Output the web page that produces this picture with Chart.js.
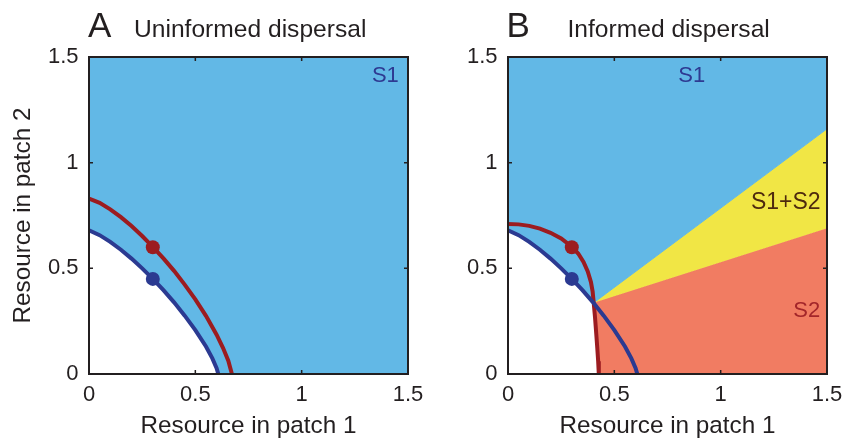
<!DOCTYPE html>
<html><head><meta charset="utf-8">
<script src="https://cdn.jsdelivr.net/npm/chart.js@4/dist/chart.umd.min.js"></script>
<style>
html,body{margin:0;padding:0;background:#fff;}
#wrap{position:relative;width:844px;height:441px;overflow:hidden;}
#ca{position:absolute;left:0;top:0;}
#cb{position:absolute;left:440px;top:0;}
</style></head><body>
<div id="wrap">
<canvas id="ca" width="440" height="441"></canvas>
<canvas id="cb" width="404" height="441"></canvas>
</div>
<script>
// ---- data ----
const axisMin = 0, axisMax = 1.5;
const tickValues = [0, 0.5, 1, 1.5];
const tickLabels = ['0', '0.5', '1', '1.5'];

// S1 boundary (blue) - same in both panels
const blueCurveX = [0, 0.05, 0.1, 0.15, 0.2, 0.25, 0.3, 0.35, 0.4, 0.45, 0.5, 0.55, 0.58, 0.6, 0.608];
const blueCurveY = [0.68, 0.657, 0.625, 0.588, 0.546, 0.5, 0.45, 0.397, 0.339, 0.276, 0.208, 0.13, 0.074, 0.028, 0];

// S2 boundary (red), panel A
const redCurveAX = [0, 0.05, 0.1, 0.15, 0.2, 0.25, 0.3, 0.35, 0.4, 0.45, 0.5, 0.55, 0.6, 0.63, 0.655, 0.672];
const redCurveAY = [0.83, 0.81, 0.779, 0.742, 0.7, 0.653, 0.602, 0.547, 0.488, 0.423, 0.353, 0.275, 0.186, 0.124, 0.063, 0];

// S2 boundary (red), panel B
const redCurveBX = [0, 0.05, 0.1, 0.15, 0.2, 0.25, 0.3, 0.33, 0.355, 0.375, 0.39, 0.398, 0.403, 0.409, 0.415, 0.42, 0.424, 0.427];
const redCurveBY = [0.71, 0.708, 0.701, 0.688, 0.668, 0.641, 0.602, 0.57, 0.53, 0.485, 0.435, 0.39, 0.337, 0.27, 0.19, 0.12, 0.06, 0];

// equilibrium points (x, y): red then blue
const pointsX = [0.3, 0.3];
const pointsY = [0.6, 0.45];

// panel B region boundaries: junction and ends at right edge
const junction = [0.403, 0.337];
const upperEdgeY = 1.16;
const lowerEdgeY = 0.69;

// ---- styles ----
const C_LIGHTBLUE = '#62b8e6';
const C_YELLOW = '#f1e645';
const C_SALMON = '#f17c62';
const C_BLUE = '#2b3a91';
const C_RED = '#9c1c20';
const C_TEXT = '#231f20';
const FONT = '"Liberation Sans", Arial, Helvetica, sans-serif';

function pts(xs, ys) { return xs.map((x, i) => ({x: x, y: ys[i]})); }
const blueCurve = pts(blueCurveX, blueCurveY);
const redCurveA = pts(redCurveAX, redCurveAY);
const redCurveB = pts(redCurveBX, redCurveBY);
const J = {x: junction[0], y: junction[1]};

function region(data, color, order) {
  return {data: data, borderColor: color, backgroundColor: color, borderWidth: 1,
    pointRadius: 0, fill: 'shape', tension: 0, order: order};
}
function curve(data, color) {
  return {data: data, borderColor: color, borderWidth: 4, pointRadius: 0,
    fill: false, tension: 0, order: 1, borderCapStyle: 'butt'};
}
function dots() {
  return {data: pts(pointsX, pointsY), showLine: false, pointRadius: 7, pointHoverRadius: 7,
    pointBackgroundColor: [C_RED, C_BLUE], pointBorderWidth: 0, borderColor: 'transparent', order: 0};
}

// panel A region
const regionA = [{x: axisMin, y: axisMax}, {x: axisMax, y: axisMax}, {x: axisMax, y: axisMin}]
  .concat(blueCurve.slice().reverse());

// panel B regions
const blueBelowJ = blueCurve.filter(p => p.x < J.x);
const redBelowJ = redCurveB.filter(p => p.y < J.y);
const regionBS1 = [{x: axisMin, y: axisMax}, {x: axisMax, y: axisMax}, {x: axisMax, y: upperEdgeY}, J]
  .concat(blueBelowJ.slice().reverse());
const regionBS12 = [J, {x: axisMax, y: upperEdgeY}, {x: axisMax, y: lowerEdgeY}];
const regionBS2 = [J, {x: axisMax, y: lowerEdgeY}, {x: axisMax, y: axisMin}]
  .concat(redBelowJ.slice().reverse());

const framePlugin = {
  id: 'frame',
  afterDatasetsDraw(chart, args, o) {
    const ctx = chart.ctx, a = chart.chartArea;
    const xs = chart.scales.x, ys = chart.scales.y;
    ctx.save();
    ctx.strokeStyle = C_TEXT;
    ctx.lineWidth = 2;
    ctx.strokeRect(a.left, a.top, a.right - a.left, a.bottom - a.top);
    ctx.lineWidth = 1.5;
    const tl = 4;
    ctx.beginPath();
    tickValues.forEach(v => {
      const px = xs.getPixelForValue(v);
      ctx.moveTo(px, a.bottom); ctx.lineTo(px, a.bottom - tl);
      ctx.moveTo(px, a.top); ctx.lineTo(px, a.top + tl);
      const py = ys.getPixelForValue(v);
      ctx.moveTo(a.left, py); ctx.lineTo(a.left + tl, py);
      ctx.moveTo(a.right, py); ctx.lineTo(a.right - tl, py);
    });
    ctx.stroke();
    // region labels
    (o.labels || []).forEach(l => {
      ctx.font = l.size + 'px ' + FONT;
      ctx.fillStyle = l.color;
      ctx.textAlign = l.align;
      ctx.textBaseline = 'alphabetic';
      ctx.fillText(l.text, xs.getPixelForValue(l.x), ys.getPixelForValue(l.y));
    });
    // panel titles
    (o.titles || []).forEach(t => {
      ctx.font = t.size + 'px ' + FONT;
      ctx.fillStyle = C_TEXT;
      ctx.textAlign = 'left';
      ctx.textBaseline = 'alphabetic';
      ctx.fillText(t.text, t.px, t.py);
    });
    ctx.restore();
  }
};

function makeOptions(yWidth, showYTitle, rightPad, plugOpts) {
  return {
    responsive: false,
    devicePixelRatio: 1,
    animation: false,
    events: [],
    layout: {padding: {top: 57, left: 0, right: rightPad, bottom: 0}},
    plugins: {legend: {display: false}, tooltip: {enabled: false}, frame: plugOpts},
    scales: {
      x: {
        type: 'linear', min: axisMin, max: axisMax,
        afterBuildTicks: s => { s.ticks = tickValues.map(v => ({value: v})); },
        afterFit: s => { s.height = 67; s.paddingLeft = 0; s.paddingRight = 0; },
        grid: {display: false, drawTicks: false}, border: {display: false},
        ticks: {padding: 8, color: C_TEXT, font: {family: FONT, size: 22},
          callback: (v) => tickLabels[tickValues.indexOf(v)], maxRotation: 0},
        title: {display: true, text: 'Resource in patch 1', color: C_TEXT,
          font: {family: FONT, size: 24.3}, padding: {top: 0, bottom: 0}}
      },
      y: {
        type: 'linear', min: axisMin, max: axisMax,
        afterBuildTicks: s => { s.ticks = tickValues.map(v => ({value: v})); },
        afterFit: s => { s.width = yWidth; s.paddingTop = 0; s.paddingBottom = 0; },
        grid: {display: false, drawTicks: false}, border: {display: false},
        ticks: {padding: 10.5, color: C_TEXT, font: {family: FONT, size: 22},
          callback: (v) => tickLabels[tickValues.indexOf(v)]},
        title: {display: showYTitle, text: 'Resource in patch 2', color: C_TEXT,
          font: {family: FONT, size: 24.3}, padding: {top: 9, bottom: 0}}
      }
    }
  };
}

new Chart(document.getElementById('ca'), {
  type: 'line',
  data: {datasets: [
    dots(),
    curve(blueCurve, C_BLUE),
    curve(redCurveA, C_RED),
    region(regionA, C_LIGHTBLUE, 2)
  ]},
  options: makeOptions(89, true, 32, {
    labels: [{text: 'S1', x: 1.457, y: 1.381, align: 'right', color: '#2e3a92', size: 22}],
    titles: [{text: 'A', px: 88, py: 37, size: 35}, {text: 'Uninformed dispersal', px: 134, py: 37, size: 24.6}]
  }),
  plugins: [framePlugin]
});

new Chart(document.getElementById('cb'), {
  type: 'line',
  data: {datasets: [
    dots(),
    curve(blueCurve, C_BLUE),
    curve(redCurveB, C_RED),
    region(regionBS1, C_LIGHTBLUE, 2),
    region(regionBS12, C_YELLOW, 2),
    region(regionBS2, C_SALMON, 2)
  ]},
  options: makeOptions(68, false, 17, {
    labels: [
      {text: 'S1', x: 0.864, y: 1.382, align: 'center', color: '#2e3a92', size: 22},
      {text: 'S1+S2', x: 1.47, y: 0.779, align: 'right', color: '#4e2a0e', size: 23},
      {text: 'S2', x: 1.468, y: 0.272, align: 'right', color: '#a3262a', size: 22}
    ],
    titles: [{text: 'B', px: 66.5, py: 37, size: 35}, {text: 'Informed dispersal', px: 127.5, py: 37, size: 24.6}]
  }),
  plugins: [framePlugin]
});
</script>
</body></html>
